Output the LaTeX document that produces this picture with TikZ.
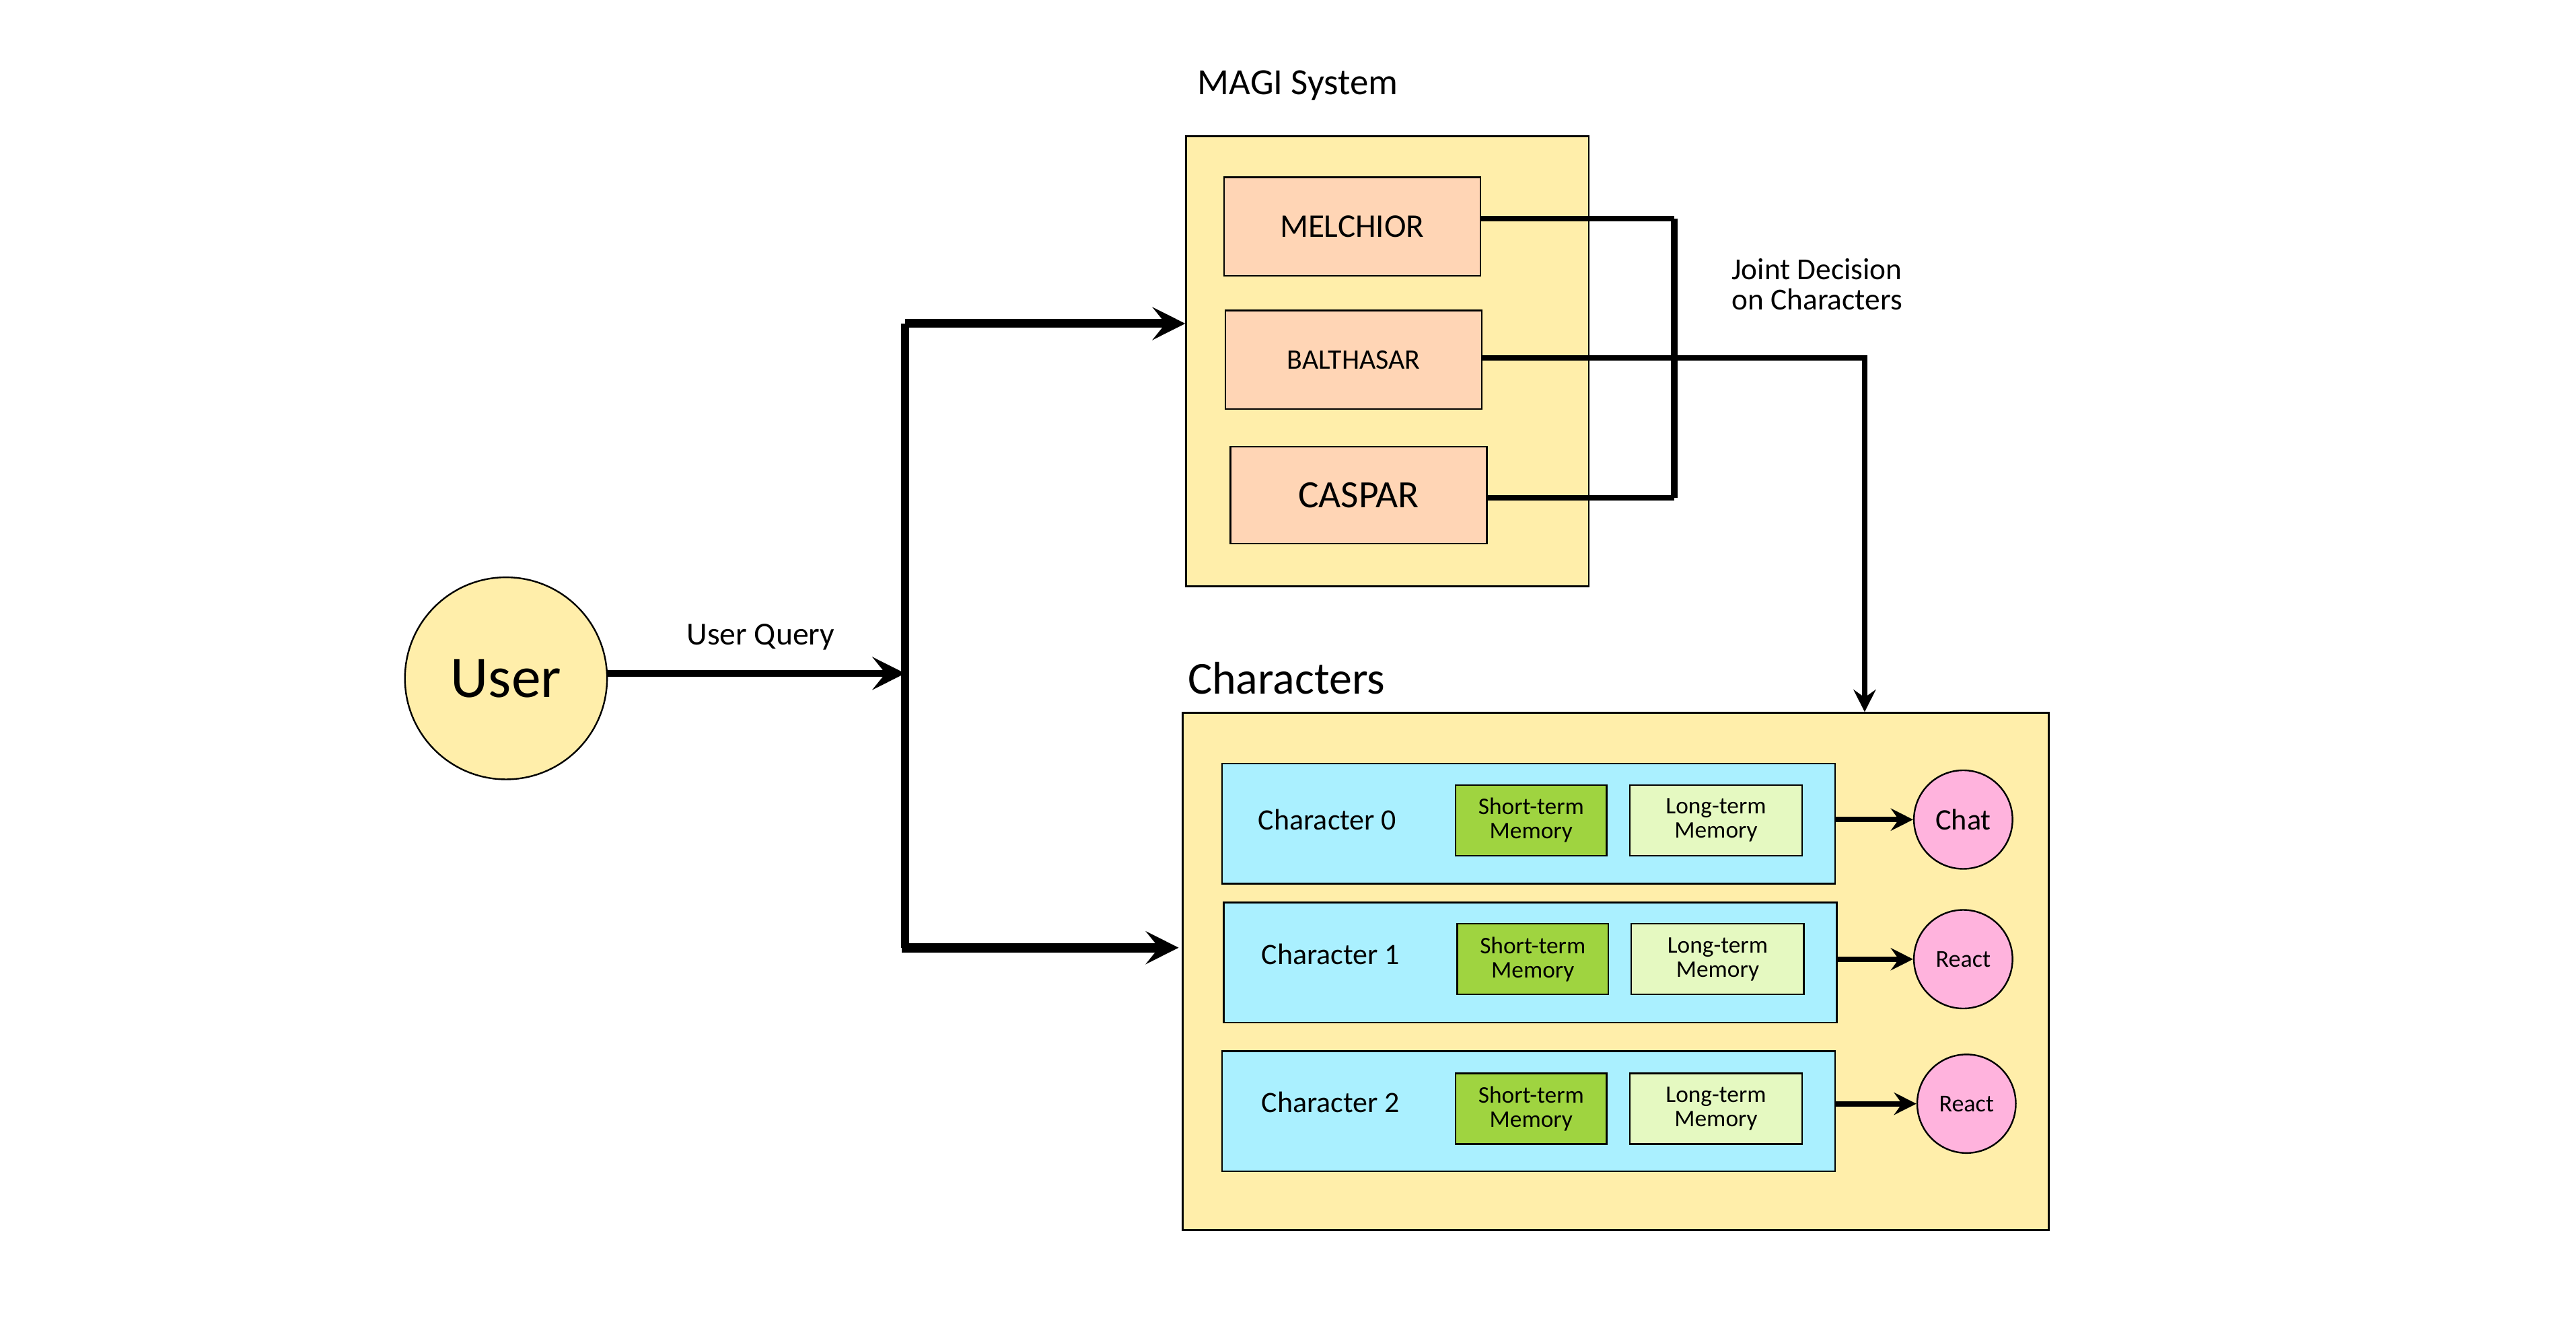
\documentclass[tikz,border=0pt]{standalone}
\usepackage{fontspec}
\setmainfont{Carlito}
\usetikzlibrary{positioning, arrows.meta, calc, shapes}

\definecolor{boxyellow}{HTML}{FFEEAA}
\definecolor{magisalmon}{HTML}{FFD5B5}
\definecolor{charcyan}{HTML}{AAF0FF}
\definecolor{stmgreen}{HTML}{9FD440}
\definecolor{ltmgreen}{HTML}{E5F9C1}
\definecolor{outpink}{HTML}{FFB3DD}

\tikzset{
	box/.style={draw, line width=0.7pt, rectangle, inner sep=0pt},
	magi/.style={box, fill=magisalmon, minimum width=3.9cm, minimum height=1.5cm},
	charbox/.style={box, fill=charcyan, minimum width=9.325cm, minimum height=1.825cm},
	stm/.style={box, fill=stmgreen, minimum width=2.3cm, minimum height=1.075cm, align=center,
		font=\fontsize{10.3}{10.5}\selectfont},
	ltm/.style={box, fill=ltmgreen, minimum width=2.625cm, minimum height=1.075cm, align=center,
		font=\fontsize{10.3}{10.5}\selectfont},
	outnode/.style={draw, line width=0.7pt, circle, fill=outpink, minimum size=1.5cm, inner sep=0pt},
	big/.style={-{Stealth[length=0.5cm, width=0.5cm, inset=0.2cm]}},
	small/.style={-{Stealth[length=0.34cm, width=0.34cm, inset=0.12cm]}}
}

\begin{document}
\begin{tikzpicture}[x=0.025cm, y=-0.025cm]
		\useasboundingbox (0,0) rectangle (1568,807.3);
		
		%User
		\node[draw, line width=0.7pt, circle, fill=boxyellow, minimum size=3.075cm,
			font=\fontsize{25.5}{27}\selectfont] (user) at (308,413) {User};
		\node[font=\fontsize{13.9}{15}\selectfont] (query) at (463,388) {User Query};
		
		%MAGI system
		\node[box, fill=boxyellow, minimum width=6.125cm, minimum height=6.85cm] (magi) at (844.5,220) {};
		\node[font=\fontsize{16}{18}\selectfont, anchor=west] (magi_t) at (724,52) {MAGI System};
		\node[magi, font=\fontsize{14.3}{16}\selectfont] (melchior) at (823,138) {MELCHIOR};
		\node[magi, font=\fontsize{12.2}{14}\selectfont] (balthasar) at (824,219) {BALTHASAR};
		\node[magi, font=\fontsize{16.7}{18}\selectfont, minimum height=1.475cm] (caspar) at (827,301.5) {CASPAR};
		\node[font=\fontsize{13.2}{13.2}\selectfont, align=center] (joint) at (1106,173) {Joint Decision\\on Characters};
		
		%Characters
		\node[box, fill=boxyellow, minimum width=13.175cm, minimum height=7.875cm] (chars) at (983.5,591.5) {};
		\node[font=\fontsize{19.8}{21}\selectfont, anchor=west] (chars_t) at (718,413) {Characters};
		
		\node[charbox] (c_0) at (930.5,501.5) {};
		\node[charbox] (c_1) at (931.5,586) {};
		\node[charbox] (c_2) at (930.5,676.5) {};
		
		\node[font=\fontsize{12.8}{14}\selectfont] (n_0) at (808,499) {Character 0};
		\node[font=\fontsize{12.8}{14}\selectfont] (n_1) at (810,581) {Character 1};
		\node[font=\fontsize{12.8}{14}\selectfont] (n_2) at (810,671) {Character 2};
		
		\node[stm] (stm_0) at (932,499.5) {Short-term\\Memory};
		\node[stm] (stm_1) at (933,584) {Short-term\\Memory};
		\node[stm] (stm_2) at (932,675) {Short-term\\Memory};
		\node[ltm] (ltm_0) [right=0.325cm of stm_0] {Long-term\\Memory};
		\node[ltm] (ltm_1) [right=0.325cm of stm_1] {Long-term\\Memory};
		\node[ltm] (ltm_2) [right=0.325cm of stm_2] {Long-term\\Memory};
		
		\node[outnode, font=\fontsize{12.9}{14}\selectfont] (out_0) at (1195,499) {Chat};
		\node[outnode, font=\fontsize{10.5}{12}\selectfont] (out_1) at (1195,584) {React};
		\node[outnode, font=\fontsize{10.5}{12}\selectfont] (out_2) at (1197,672) {React};
		
		%Connectors
		\coordinate (bus_top) at (551,197);
		\coordinate (bus_mid) at (551,410);
		\coordinate (bus_bot) at (551,577);
		\coordinate (j_top) at (1019,133);
		\coordinate (j_bot) at (1019,303);
		\coordinate (dec) at (1135,218);
		
		\draw[line width=3.5pt] (bus_top) -- (bus_bot);
		\draw[big, line width=2.9pt] (user.east |- bus_mid) -- (bus_mid);
		\draw[big, line width=3.8pt] (bus_top) -- (bus_top -| magi.west);
		\draw[big, line width=4pt] ([xshift=-0.05cm]bus_bot) -- ([xshift=-0.05cm]bus_bot -| chars.west);
		
		\draw[line width=2.3pt] (melchior.east |- j_top) -- (j_top);
		\draw[line width=2.9pt] (j_top) -- (j_bot);
		\draw[line width=2.3pt] (caspar.east |- j_bot) -- (j_bot);
		\draw[small, line width=2.3pt] (balthasar.east |- dec) -- (dec) -- (dec |- chars.north);
		
		\draw[small, line width=2.3pt] (c_0.east |- out_0) -- (out_0);
		\draw[small, line width=2.3pt] (c_1.east |- out_1) -- (out_1);
		\draw[small, line width=2.3pt] (c_2.east |- out_2) -- (out_2);
		
\end{tikzpicture}
\end{document}
